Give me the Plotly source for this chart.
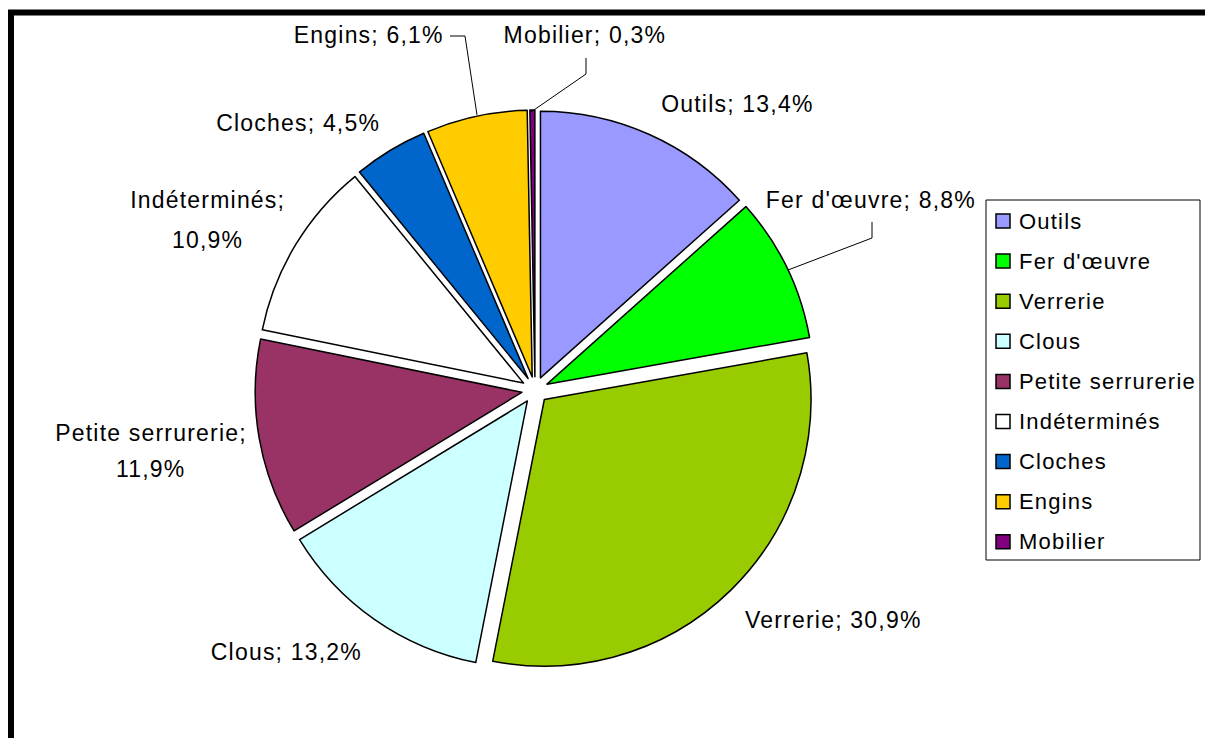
import plotly.graph_objects as go

# Composition of the assemblage by category (% of items)
categories = ["Outils", "Fer d'œuvre", "Verrerie", "Clous", "Petite serrurerie",
              "Indéterminés", "Cloches", "Engins", "Mobilier"]
shares = [13.4, 8.8, 30.9, 13.2, 11.9, 10.9, 4.5, 6.1, 0.3]
colors = ["#9999FF", "#00FF00", "#99CC00", "#CCFFFF", "#993366",
          "#FFFFFF", "#0066CC", "#FFCC00", "#800080"]

W, H = 1205, 738
FONT = "Liberation Sans, Arial, sans-serif"


def px(x, y):
    """Pixel position -> paper coordinates."""
    return x / W, 1 - y / H


def fmt(value):
    return f"{value:.1f}%".replace(".", ",")


# Label anchor points (pixels); two points = label split over two lines
label_pos = {
    "Outils": [(737, 104)],
    "Fer d'œuvre": [(871, 200)],
    "Verrerie": [(833, 620)],
    "Clous": [(286, 652)],
    "Petite serrurerie": [(151, 433), (151, 469)],
    "Indéterminés": [(207, 200), (207, 240)],
    "Cloches": [(298, 123)],
    "Engins": [(369, 35)],
    "Mobilier": [(585, 35)],
}

# Leader lines from a label to its slice (pixels)
leaders = {
    "Engins": [(450, 36), (465, 36), (477, 115)],
    "Mobilier": [(586, 58), (586, 74), (531, 112)],
    "Fer d'œuvre": [(872, 222), (872, 238), (788, 270)],
}

# Pie placement: centre and outer extent (radius incl. pull)
cx, cy, half = 535, 390, 280
x0, y0 = px(cx - half, cy + half)
x1, y1 = px(cx + half, cy - half)

fig = go.Figure(go.Pie(
    labels=categories,
    values=shares,
    sort=False,
    direction="clockwise",
    rotation=0,
    pull=0.05,
    marker=dict(colors=colors, line=dict(color="black", width=1.5)),
    textinfo="none",
    hoverinfo="label+percent",
    showlegend=False,
    domain=dict(x=[x0, x1], y=[y0, y1]),
))

annotations = []
shapes = []

# Data labels
for cat, val in zip(categories, shares):
    pts = label_pos[cat]
    if len(pts) == 1:
        parts = [f"{cat}; {fmt(val)}"]
    else:
        parts = [f"{cat};", fmt(val)]
    for text, (lx, ly) in zip(parts, pts):
        ax, ay = px(lx, ly)
        annotations.append(dict(
            x=ax, y=ay, xref="paper", yref="paper", text=text,
            showarrow=False, xanchor="center", yanchor="middle",
            font=dict(family=FONT, size=23, color="black"),
        ))

for cat, pts in leaders.items():
    path = "M " + " L ".join(f"{px(x, y)[0]},{px(x, y)[1]}" for x, y in pts)
    shapes.append(dict(type="path", xref="paper", yref="paper", path=path,
                       line=dict(color="black", width=1)))

# Legend box
lx0, ly0 = px(986, 200)
lx1, ly1 = px(1200, 560)
shapes.append(dict(type="rect", xref="paper", yref="paper",
                   x0=lx0, y0=ly1, x1=lx1, y1=ly0,
                   line=dict(color="black", width=1), fillcolor="white", layer="below"))
for i, (cat, col) in enumerate(zip(categories, colors)):
    yc = 221 + 40.1 * i
    sx0, sy0 = px(996, yc + 7)
    sx1, sy1 = px(1010, yc - 7)
    shapes.append(dict(type="rect", xref="paper", yref="paper",
                       x0=sx0, y0=sy0, x1=sx1, y1=sy1,
                       fillcolor=col, line=dict(color="black", width=1.5)))
    tx, ty = px(1017, yc)
    annotations.append(dict(
        x=tx, y=ty, xref="paper", yref="paper", text=cat,
        showarrow=False, xanchor="left", yanchor="middle", align="left",
        font=dict(family=FONT, size=22, color="black"),
    ))

# Outer frame (left and top edges visible)
fx0, fy0 = px(11, 12.5)
shapes.append(dict(type="path", xref="paper", yref="paper",
                   path=f"M {fx0},0 L {fx0},{fy0} L 1,{fy0}",
                   line=dict(color="black", width=6)))

fig.update_layout(
    width=W, height=H,
    margin=dict(l=0, r=0, t=0, b=0),
    paper_bgcolor="white",
    plot_bgcolor="white",
    annotations=annotations,
    shapes=shapes,
    showlegend=False,
)

# Wider tracking on the label text
post = ("document.querySelectorAll('.annotation-text').forEach(function(t){"
        "t.style.letterSpacing='1.2px';});")
fig.write_html("out.html", post_script=post)
